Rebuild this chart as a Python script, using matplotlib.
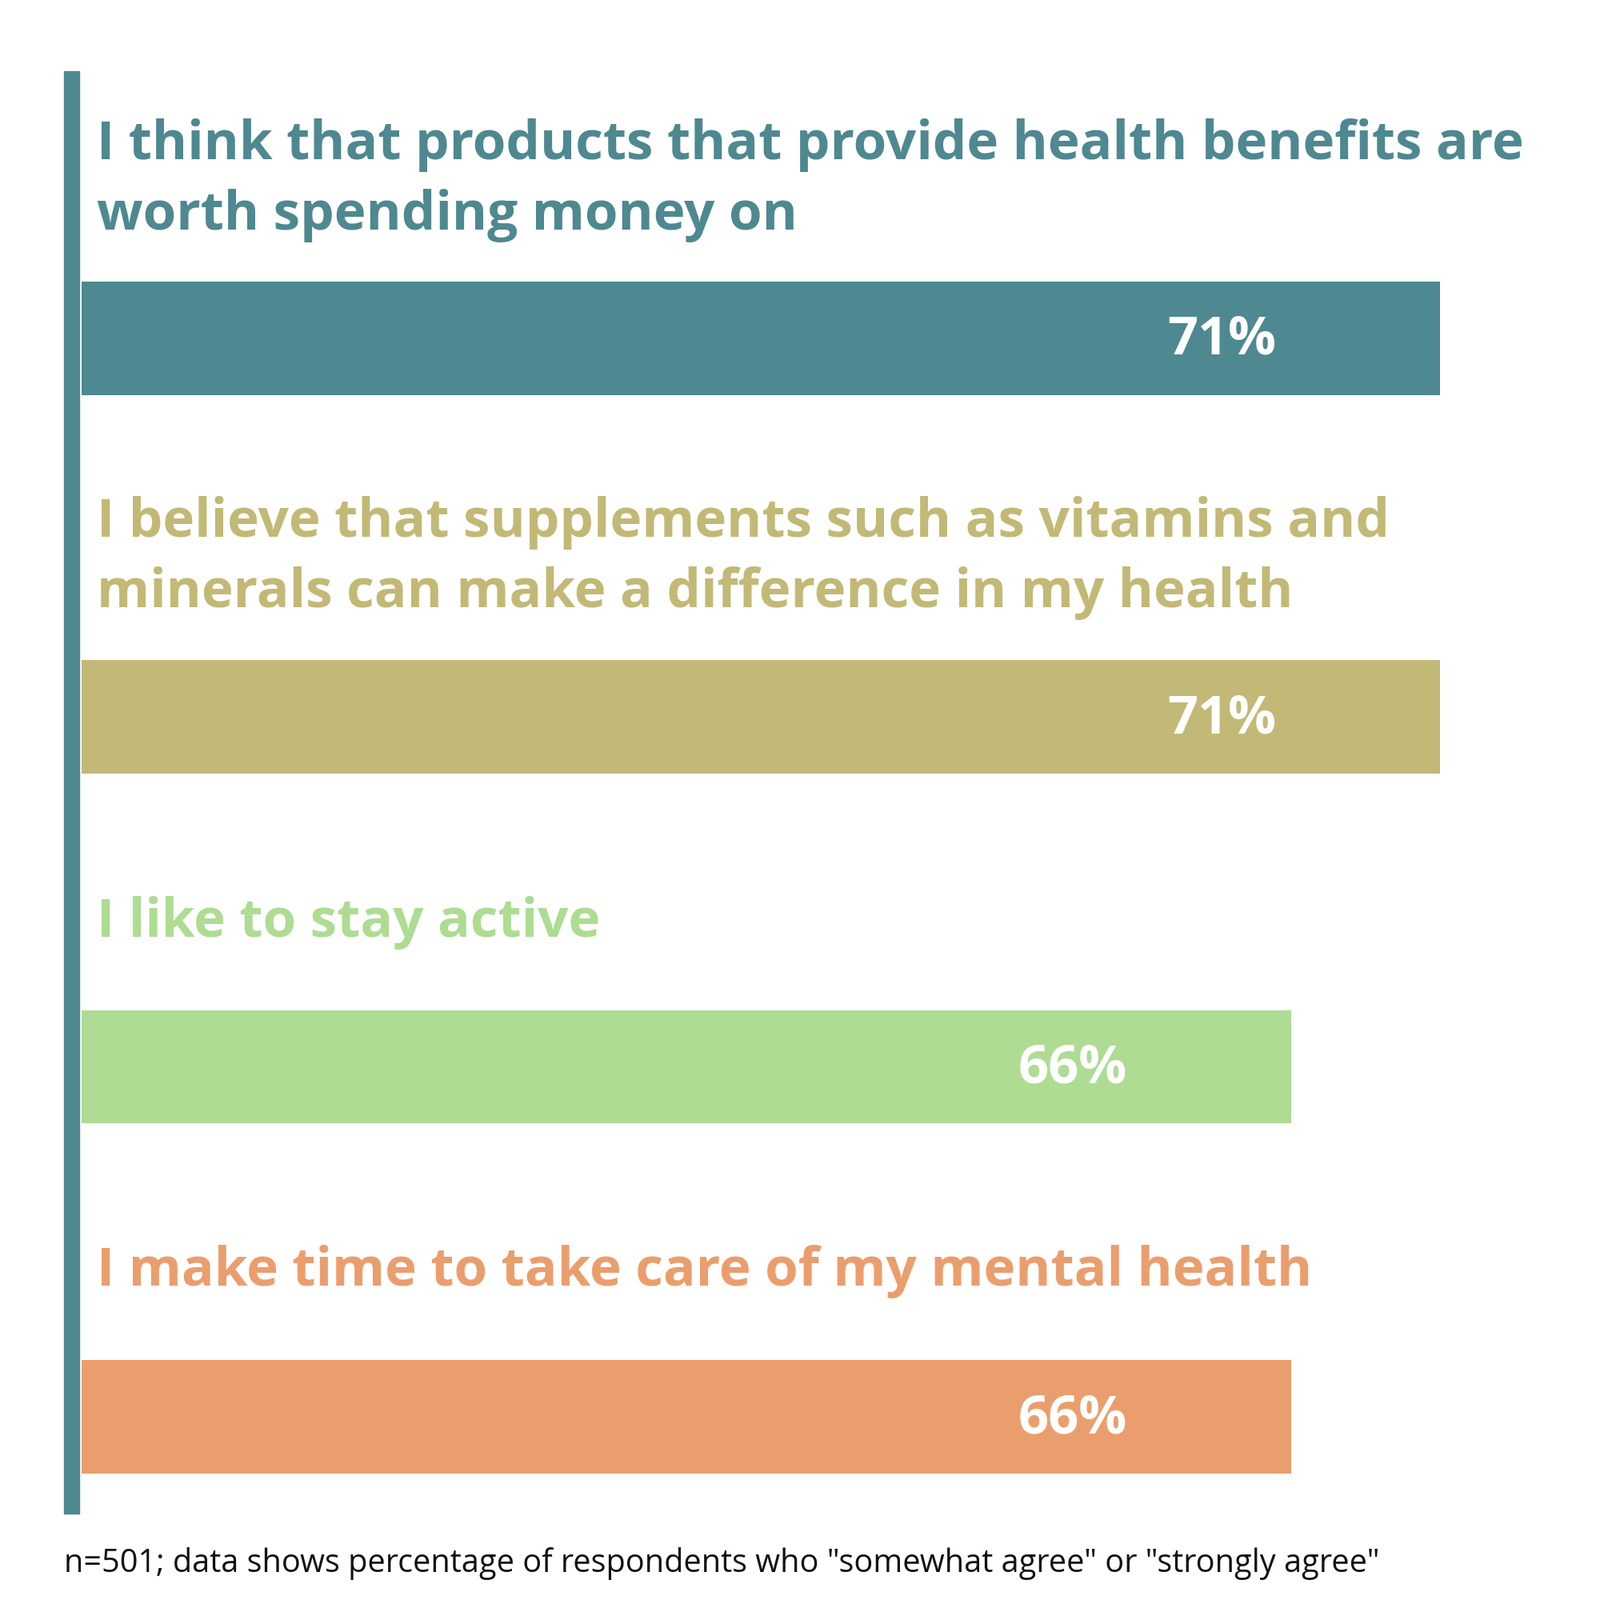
import matplotlib
matplotlib.use("Agg")
import matplotlib.pyplot as plt

statements = [
    "I think that products that provide health benefits are\nworth spending money on",
    "I believe that supplements such as vitamins and\nminerals can make a difference in my health",
    "I like to stay active",
    "I make time to take care of my mental health",
]
values = [71, 71, 66, 66]
labels = ["71%", "71%", "66%", "66%"]
colors = ["#4e8890", "#c2b976", "#addc92", "#eb9e6d"]
footnote = 'n=501; data shows percentage of respondents who "somewhat agree" or "strongly agree"'

S = 1568.0
fig = plt.figure(figsize=(20, 20), dpi=100)
fig.patch.set_facecolor("white")
ax = fig.add_axes([0, 0, 1, 1])
base = 25.4
ppv = 29.2
ax.set_xlim(base - 80 / ppv, base + (S - 80) / ppv)
ax.set_ylim(S, 0)
ax.axis("off")

bar_top = [276, 647, 990, 1333]
bar_h = 111
title_top = [116, 486, 878, 1220]
for i, (s, v, lab, c) in enumerate(zip(statements, values, labels, colors)):
    ax.barh(bar_top[i] + bar_h / 2, v - base, left=base, height=bar_h, color=c)
    ax.text(v - 214 / ppv, bar_top[i] + bar_h / 2 + 2, lab, color="white",
            fontsize=48, fontweight="bold", family="Open Sans", ha="center", va="center")
    ax.text(base + 15 / ppv, title_top[i], s, color=c, fontsize=48.5, fontweight="bold",
            family="Open Sans", ha="left", va="top", linespacing=1.42)

ax.add_patch(plt.Rectangle((base - 17 / ppv, 70), 15 / ppv, 1413, color="#4e8890"))
ax.text(base - 17 / ppv, 1532, footnote, fontsize=28.5, family="Open Sans",
        color="#111111", ha="left", va="center")

fig.savefig("out.png", dpi=100)
